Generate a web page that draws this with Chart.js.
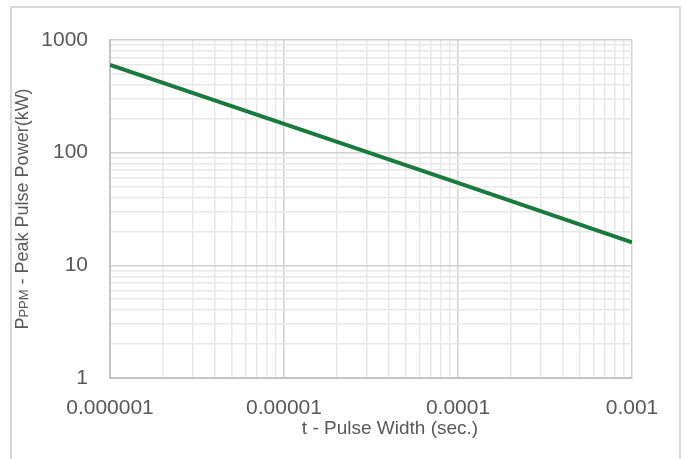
<!DOCTYPE html>
<html>
<head>
<meta charset="utf-8">
<title>Peak Pulse Power vs Pulse Width</title>
<script src="https://cdn.jsdelivr.net/npm/chart.js@4.4.1/dist/chart.umd.min.js"></script>
<style>
    html, body { margin: 0; padding: 0; background: #fff; }
    #wrap { position: relative; width: 686px; height: 459px; overflow: hidden; }
    #frame {
        position: absolute; left: 10px; top: 6px; width: 671px; height: 470px;
        border: 2px solid #d9d9d9; box-sizing: border-box;
    }
    #chart { position: absolute; left: 0; top: 0; }
</style>
</head>
<body>
<div id="wrap">
    <div id="frame"></div>
    <canvas id="chart" width="686" height="459"></canvas>
</div>
<script>
(function () {
    'use strict';

    // Données (échelle log-log)
    const pulseWidth = [0.000001, 0.00001, 0.0001, 0.001];   // t (s)
    const peakPower = [600, 180, 54, 16];                   // PPPM (kW)

    // Décades des axes
    const xDecades = [0.000001, 0.00001, 0.0001, 0.001];
    const xTickLabels = ['0.000001', '0.00001', '0.0001', '0.001'];
    const yDecades = [1, 10, 100, 1000];
    const yTickLabels = ['1', '10', '100', '1000'];
    const minorSteps = [1, 2, 3, 4, 5, 6, 7, 8, 9];

    const xTitle = 't - Pulse Width (sec.)';
    const yTitleParts = [
        { text: 'P', scale: 1 },
        { text: 'PPM', scale: 0.72 },
        { text: ' - Peak Pulse Power(kW)', scale: 1 }
    ];

    const FONT = '"Liberation Sans", Arial, sans-serif';
    const TEXT_COLOR = '#595959';

    function isMajor(v) {
        const l = Math.log10(v);
        return Math.abs(l - Math.round(l)) < 1e-9;
    }

    // Graduations majeures + mineures pour chaque décade
    function buildTicks(decades) {
        const ticks = [];
        decades.forEach(function (d, i) {
            if (i === decades.length - 1) {
                ticks.push({ value: d, major: true });
                return;
            }
            minorSteps.forEach(function (m) {
                ticks.push({ value: d * m, major: m === 1 });
            });
        });
        return ticks;
    }

    function gridColor(ctx) {
        return ctx.tick && isMajor(ctx.tick.value) ? '#d0d0d0' : '#e8e8e8';
    }
    function gridWidth(ctx) {
        return ctx.tick && isMajor(ctx.tick.value) ? 1.5 : 1.5;
    }

    // Titres des axes dessinés à la main (indice "PPM" plus petit)
    const axisTitles = {
        id: 'axisTitles',
        afterDraw: function (chart) {
            const c = chart.ctx;
            const area = chart.chartArea;
            c.save();
            c.fillStyle = TEXT_COLOR;
            c.textBaseline = 'alphabetic';

            // Titre X
            c.font = '19px ' + FONT;
            c.textAlign = 'center';
            c.fillText(xTitle, 390, 434);

            // Titre Y (vertical)
            const size = 18;
            let total = 0;
            yTitleParts.forEach(function (p) {
                c.font = Math.round(size * p.scale) + 'px ' + FONT;
                p.w = c.measureText(p.text).width;
                total += p.w;
            });
            c.translate(28, (area.top + area.bottom) / 2);
            c.rotate(-Math.PI / 2);
            c.textAlign = 'left';
            let x = -total / 2;
            yTitleParts.forEach(function (p) {
                c.font = Math.round(size * p.scale) + 'px ' + FONT;
                c.fillText(p.text, x, 0);
                x += p.w;
            });
            c.restore();
        }
    };

    const canvas = document.getElementById('chart');

    new Chart(canvas, {
        type: 'line',
        data: {
            datasets: [{
                data: pulseWidth.map(function (t, i) { return { x: t, y: peakPower[i] }; }),
                borderColor: '#1a7a3b',
                borderWidth: 4,
                pointRadius: 0,
                tension: 0,
                fill: false
            }]
        },
        options: {
            responsive: false,
            animation: false,
            layout: { padding: { left: 0, top: 40, right: 54, bottom: 0 } },
            plugins: {
                legend: { display: false },
                tooltip: { enabled: false }
            },
            scales: {
                x: {
                    type: 'logarithmic',
                    min: xDecades[0],
                    max: xDecades[xDecades.length - 1],
                    afterBuildTicks: function (scale) { scale.ticks = buildTicks(xDecades); },
                    afterFit: function (scale) { scale.height = 81; },
                    grid: { color: gridColor, lineWidth: gridWidth, drawTicks: false },
                    border: { color: '#c4c4c4', width: 2 },
                    ticks: {
                        autoSkip: false,
                        maxRotation: 0,
                        padding: 18,
                        color: TEXT_COLOR,
                        font: { family: FONT, size: 21 },
                        callback: function (value) {
                            const i = xDecades.findIndex(function (d) { return Math.abs(d - value) / d < 1e-9; });
                            return i >= 0 ? xTickLabels[i] : '';
                        }
                    }
                },
                y: {
                    type: 'logarithmic',
                    min: yDecades[0],
                    max: yDecades[yDecades.length - 1],
                    afterBuildTicks: function (scale) { scale.ticks = buildTicks(yDecades); },
                    afterFit: function (scale) { scale.width = 110; },
                    grid: { color: gridColor, lineWidth: gridWidth, drawTicks: false },
                    border: { color: '#c4c4c4', width: 2 },
                    ticks: {
                        autoSkip: false,
                        padding: 22,
                        color: TEXT_COLOR,
                        font: { family: FONT, size: 21 },
                        callback: function (value) {
                            const i = yDecades.indexOf(value);
                            return i >= 0 ? yTickLabels[i] : '';
                        }
                    }
                }
            }
        },
        plugins: [axisTitles]
    });
})();
</script>
</body>
</html>
